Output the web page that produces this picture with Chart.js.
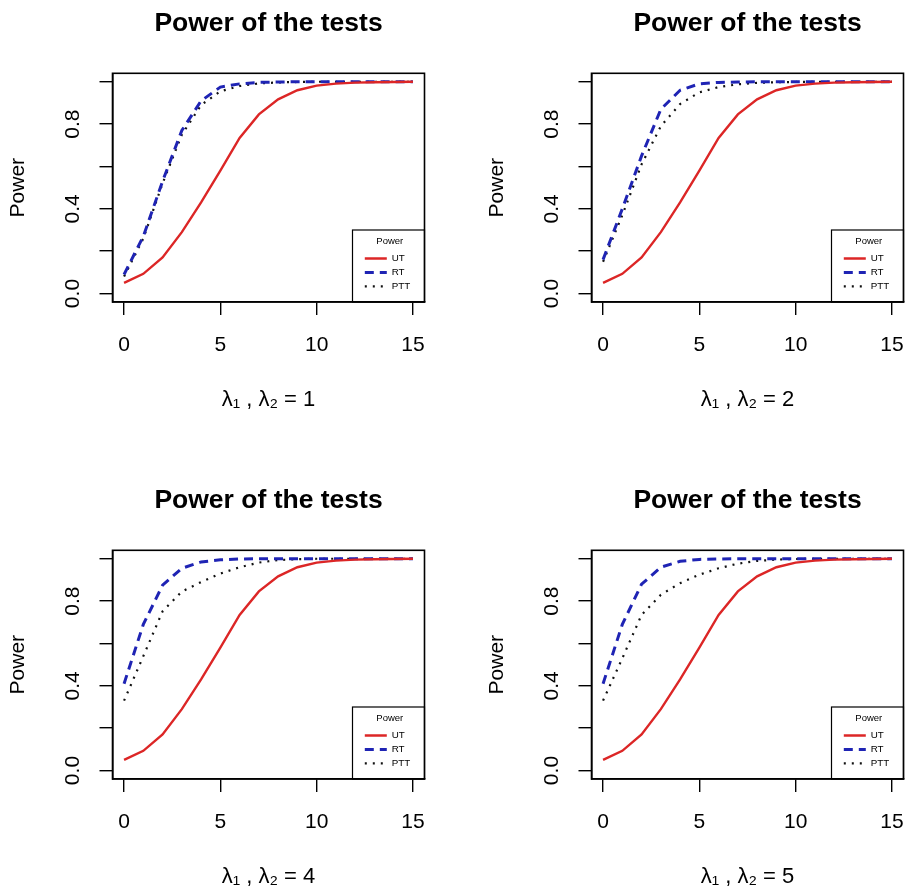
<!DOCTYPE html>
<html>
<head>
<meta charset="utf-8">
<script src="https://cdn.jsdelivr.net/npm/chart.js@4.4.1/dist/chart.umd.min.js"></script>
<style>
  html, body { margin: 0; padding: 0; background: #fff; overflow: hidden; }
  #wrap { position: relative; width: 907px; height: 895px; }
  canvas { position: absolute; }
</style>
</head>
<body>
<div id="wrap">
  <canvas id="p1" width="428" height="418" style="left:0;top:0"></canvas>
  <canvas id="p2" width="428" height="418" style="left:479px;top:0"></canvas>
  <canvas id="p3" width="428" height="418" style="left:0;top:477px"></canvas>
  <canvas id="p4" width="428" height="418" style="left:479px;top:477px"></canvas>
</div>
<script>
// ── data ──
const lambda1 = [0, 1, 2, 3, 4, 5, 6, 7, 8, 9, 10, 11, 12, 13, 14, 15];
const lambda2 = [1, 2, 4, 5];
const seriesNames = ['UT', 'RT', 'PTT'];

const utPower = [0.05, 0.093, 0.17, 0.29, 0.43, 0.58, 0.735, 0.846, 0.917, 0.96, 0.982, 0.991, 0.996, 0.998, 0.999, 1.0];

const rtPower1 = [0.09, 0.27, 0.53, 0.77, 0.91, 0.975, 0.99, 0.997, 0.999, 1.0, 1.0, 1.0, 1.0, 1.0, 1.0, 1.0];
const pttPower1 = [0.08, 0.26, 0.52, 0.75, 0.89, 0.955, 0.98, 0.992, 0.997, 0.999, 1.0, 1.0, 1.0, 1.0, 1.0, 1.0];

const rtPower2 = [0.16, 0.4, 0.65, 0.87, 0.96, 0.99, 0.997, 0.999, 1.0, 1.0, 1.0, 1.0, 1.0, 1.0, 1.0, 1.0];
const pttPower2 = [0.15, 0.37, 0.61, 0.79, 0.895, 0.95, 0.975, 0.988, 0.995, 0.998, 0.999, 1.0, 1.0, 1.0, 1.0, 1.0];

const rtPower4 = [0.41, 0.69, 0.875, 0.955, 0.985, 0.995, 0.999, 1.0, 1.0, 1.0, 1.0, 1.0, 1.0, 1.0, 1.0, 1.0];
const pttPower4 = [0.33, 0.54, 0.752, 0.845, 0.89, 0.93, 0.96, 0.982, 0.994, 0.998, 1.0, 1.0, 1.0, 1.0, 1.0, 1.0];

const rtPower5 = [0.41, 0.69, 0.88, 0.96, 0.988, 0.997, 0.999, 1.0, 1.0, 1.0, 1.0, 1.0, 1.0, 1.0, 1.0, 1.0];
const pttPower5 = [0.33, 0.53, 0.735, 0.83, 0.885, 0.925, 0.955, 0.977, 0.99, 0.996, 0.999, 1.0, 1.0, 1.0, 1.0, 1.0];

const yTickLabels = ['0.0', '0.4', '0.8'];
const xTickLabels = ['0', '5', '10', '15'];

const FONT = "'Liberation Sans', Arial, Helvetica, 'DejaVu Sans', sans-serif";
Chart.defaults.font.family = FONT;
Chart.defaults.color = '#000';

// frame round the plot region plus the legend box (R style)
const frame = {
  id: 'frame',
  afterLayout(chart) {
    const a = chart.chartArea;
    const lg = chart.legend;
    const boxLeft = a.right - 72;
    const boxTop = a.bottom - 72;
    lg.left = boxLeft + 8.1;
    lg.width = 58.4;
    lg.right = lg.left + lg.width;
    lg.top = boxTop;
    lg.bottom = a.bottom;
    lg.height = lg.bottom - lg.top;
    chart.$legendBox = { left: boxLeft, top: boxTop, right: a.right, bottom: a.bottom };
  },
  afterDraw(chart) {
    const { ctx, chartArea: a } = chart;
    const b = chart.$legendBox;
    ctx.save();
    ctx.strokeStyle = '#000';
    ctx.lineWidth = 1.2;
    ctx.strokeRect(b.left, b.top, b.right - b.left, b.bottom - b.top);
    ctx.lineWidth = 1.6;
    ctx.strokeRect(a.left, a.top, a.right - a.left, a.bottom - a.top);
    ctx.restore();
  }
};

// legend samples use the dataset's own line dash / width
const legendLabels = chart =>
  Chart.defaults.plugins.legend.labels.generateLabels(chart).map(item => {
    const ds = chart.data.datasets[item.datasetIndex];
    return Object.assign(item, {
      lineDash: ds.borderDash || [],
      lineWidth: ds.borderWidth,
      strokeStyle: ds.borderColor,
      fillStyle: ds.borderColor
    });
  });

function makePanel(id, rt, ptt, l2) {
  const pts = arr => lambda1.map((x, i) => ({ x, y: arr[i] }));
  new Chart(document.getElementById(id), {
    type: 'line',
    data: {
      datasets: [
        {
          label: seriesNames[0],
          data: pts(utPower),
          borderColor: '#dc2626',
          borderWidth: 2.4,
          pointRadius: 0,
          tension: 0
        },
        {
          label: seriesNames[1],
          data: pts(rt),
          borderColor: '#1f24b4',
          borderWidth: 3,
          borderDash: [9, 6],
          pointRadius: 0,
          tension: 0
        },
        {
          label: seriesNames[2],
          data: pts(ptt),
          borderColor: '#111',
          borderWidth: 2.2,
          borderDash: [2, 6],
          pointRadius: 0,
          tension: 0
        }
      ]
    },
    options: {
      responsive: false,
      animation: false,
      events: [],
      layout: { padding: { left: 0, right: 3.5, top: 0, bottom: 0 } },
      plugins: {
        tooltip: { enabled: false },
        title: {
          display: true,
          text: 'Power of the tests',
          fullSize: false,
          font: { size: 26.5, weight: 'bold', lineHeight: 1.2 },
          padding: { top: 8.1, bottom: 33.4 },
          color: '#000'
        },
        legend: {
          position: 'chartArea',
          align: 'start',
          title: {
            display: true,
            text: 'Power',
            font: { size: 9.5, lineHeight: 1.2 },
            padding: { top: 6.25, bottom: 1.7 },
            color: '#000'
          },
          labels: {
            usePointStyle: true,
            pointStyle: 'line',
            pointStyleWidth: 22,
            padding: 4.2,
            font: { size: 9.8 },
            color: '#000',
            generateLabels: legendLabels
          }
        }
      },
      scales: {
        x: {
          type: 'linear',
          min: -0.6,
          max: 15.6,
          afterFit: s => { s.height = 116; s.paddingLeft = 0; s.paddingRight = 0; },
          grid: { drawOnChartArea: false, drawTicks: true, tickLength: 13, color: '#000', lineWidth: 1.4 },
          border: { display: true, color: '#000', width: 1.6 },
          ticks: {
            stepSize: 5,
            includeBounds: false,
            padding: 18,
            font: { size: 21 },
            color: '#000',
            callback: v => xTickLabels.includes(String(v)) ? String(v) : ''
          },
          title: {
            display: true,
            text: 'λ₁ , λ₂ = ' + l2,
            font: { size: 22, lineHeight: 1.2 },
            padding: { top: 0, bottom: 4.8 },
            color: '#000'
          }
        },
        y: {
          min: -0.04,
          max: 1.04,
          afterFit: s => { s.width = 112.5; s.paddingTop = 0; s.paddingBottom = 0; },
          grid: { drawOnChartArea: false, drawTicks: true, tickLength: 13, color: '#000', lineWidth: 1.4 },
          border: { display: true, color: '#000', width: 1.6 },
          ticks: {
            stepSize: 0.2,
            includeBounds: false,
            minRotation: 90,
            maxRotation: 90,
            crossAlign: 'center',
            padding: 11.6,
            font: { size: 21 },
            color: '#000',
            callback: v => {
              const t = (Math.round(v * 10) / 10).toFixed(1);
              return yTickLabels.includes(t) ? t : '';
            }
          },
          title: {
            display: true,
            text: 'Power',
            font: { size: 21, lineHeight: 1.2 },
            padding: { top: 5.4, bottom: 0 },
            color: '#000'
          }
        }
      }
    },
    plugins: [frame]
  });
}

makePanel('p1', rtPower1, pttPower1, lambda2[0]);
makePanel('p2', rtPower2, pttPower2, lambda2[1]);
makePanel('p3', rtPower4, pttPower4, lambda2[2]);
makePanel('p4', rtPower5, pttPower5, lambda2[3]);
</script>
</body>
</html>
